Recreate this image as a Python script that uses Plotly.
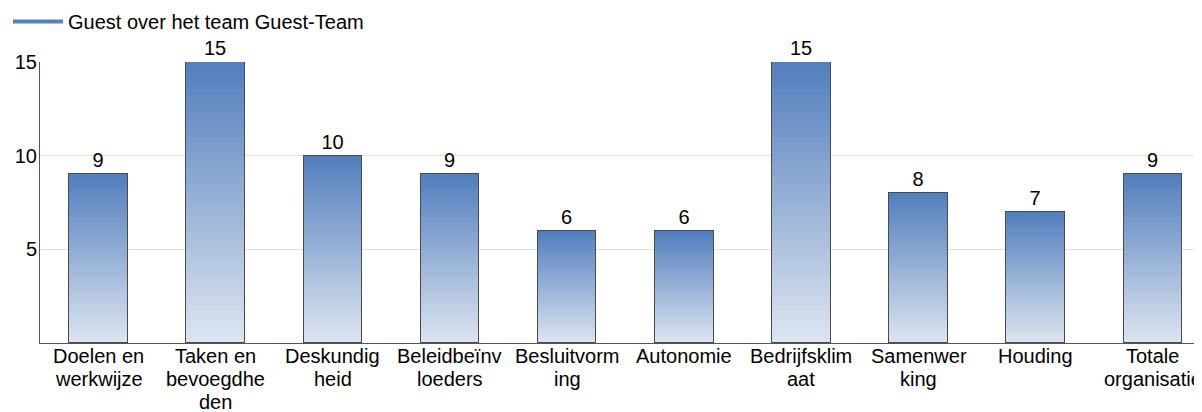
import plotly.graph_objects as go

categories = ["Doelen en<br>werkwijze", "Taken en<br>bevoegdhe<br>den", "Deskundig<br>heid",
              "Beleidbeïnv<br>loeders", "Besluitvorm<br>ing", "Autonomie",
              "Bedrijfsklim<br>aat", "Samenwer<br>king", "Houding", "Totale<br>organisatie"]
values = [9, 15, 10, 9, 6, 6, 15, 8, 7, 9]
series_name = "Guest over het team Guest-Team"
y_ticks = [5, 10, 15]

TOP = (0x52, 0x7e, 0xbd)
BOTTOM = (0xde, 0xe5, 0xf0)
N = 60
FONT = "Liberation Sans, Arial, sans-serif"
FS = 20
LINE_H = 23

# the page body has an 8px default margin; size the figure for the visible area
W, H = 1194, 404
M_T, M_B = 54, 69
PLOT_H = H - M_T - M_B

fig = go.Figure()
idx = list(range(len(categories)))

for k in range(N):
    t = (k + 0.5) / N
    c = tuple(round(BOTTOM[i] + (TOP[i] - BOTTOM[i]) * t) for i in range(3))
    fig.add_trace(go.Bar(
        x=idx, y=[v / N for v in values], width=0.5,
        marker=dict(color="rgb(%d,%d,%d)" % c, line=dict(width=0)),
        showlegend=False, hoverinfo="skip"))

fig.add_trace(go.Bar(
    x=idx, y=values, width=0.5, xaxis="x2",
    marker=dict(color="rgba(0,0,0,0)", line=dict(color="#4a4a4a", width=1)),
    text=[str(v) for v in values], textposition="outside", cliponaxis=False,
    textfont=dict(family=FONT, size=FS, color="#000"),
    showlegend=False))

fig.add_trace(go.Scatter(
    x=[None], y=[None], mode="lines", name=series_name,
    line=dict(color="#5580be", width=4)))

# category labels, one annotation per wrapped line (fixed line spacing)
annotations = []
for i, cat in enumerate(categories):
    for j, line in enumerate(cat.split("<br>")):
        annotations.append(dict(
            x=i, y=0, xref="x", yref="y", text=line, showarrow=False,
            xanchor="center", yanchor="top", yshift=0 - LINE_H * j,
            font=dict(family=FONT, size=FS, color="#000")))

fig.update_layout(
    width=W, height=H,
    margin=dict(l=32, r=0, t=M_T, b=M_B, autoexpand=False),
    plot_bgcolor="white", paper_bgcolor="white",
    barmode="stack", bargap=0,
    font=dict(family=FONT, size=FS, color="#000"),
    showlegend=True,
    legend=dict(xref="container", yref="paper", x=0, y=1 + (M_T + 6) / PLOT_H,
                xanchor="left", yanchor="top", orientation="h",
                itemwidth=50,
                font=dict(family=FONT, size=FS, color="#000"),
                bgcolor="rgba(0,0,0,0)"),
    xaxis=dict(range=[-0.5, 9.42], tickmode="array", tickvals=idx,
               showticklabels=False,
               showline=True, linecolor="#555", linewidth=1, showgrid=False,
               ticks="", zeroline=False),
    xaxis2=dict(matches="x", overlaying="x", visible=False),
    yaxis=dict(range=[0, 15], tickvals=y_ticks, showline=True, linecolor="#555",
               linewidth=1, gridcolor="#e0e0e0", gridwidth=1, zeroline=False,
               ticks="", ticklabelstandoff=-2),
    annotations=annotations,
)

fig.write_html("out.html")
